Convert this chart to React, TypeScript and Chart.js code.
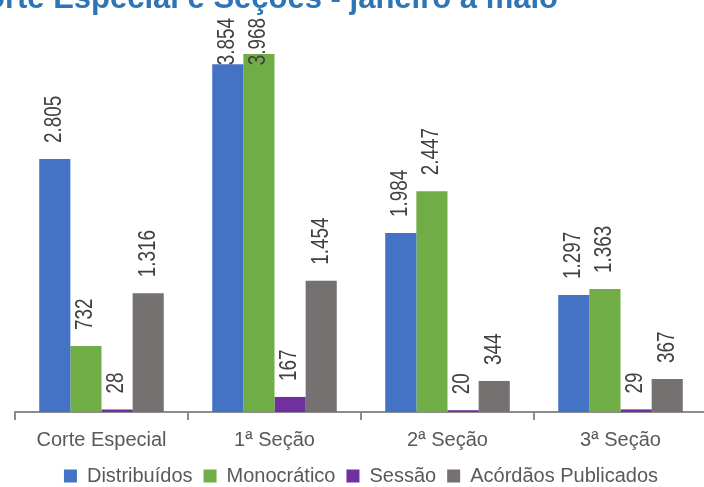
import React, { useEffect, useRef } from "react";
import { Chart, registerables } from "chart.js";

Chart.register(...registerables);

const TITLE = "Corte Especial e Seções - janeiro a maio";
const categories = ["Corte Especial", "1ª Seção", "2ª Seção", "3ª Seção"];
const distribuidos = [2805, 3854, 1984, 1297];
const monocratico = [732, 3968, 2447, 1363];
const sessao = [28, 167, 20, 29];
const acordaos = [1316, 1454, 344, 367];
const seriesNames = ["Distribuídos", "Monocrático", "Sessão", "Acórdãos Publicados"];
const colors = ["#4472C4", "#70AD47", "#7030A0", "#767171"];

const fmt = (v: number) => v.toString().replace(/\B(?=(\d{3})+(?!\d))/g, ".");

const FONT = "'Liberation Sans', Arial, sans-serif";

const labelPlugin = {
  id: "barLabels",
  afterDatasetsDraw(chart: any) {
    const ctx = chart.ctx;
    const squeeze = 0.82;
    ctx.save();
    ctx.font = `23px ${FONT}`;
    ctx.fillStyle = "#404040";
    chart.data.datasets.forEach((ds: any, di: number) => {
      const meta = chart.getDatasetMeta(di);
      meta.data.forEach((el: any, i: number) => {
        const text = fmt(ds.data[i]);
        const w = ctx.measureText(text).width * squeeze;
        let start = el.y - 16;
        if (start - w < 18) start = 18 + w;
        ctx.save();
        ctx.translate(el.x, start);
        ctx.rotate(-Math.PI / 2);
        ctx.scale(squeeze, 1);
        ctx.textAlign = "left";
        ctx.textBaseline = "middle";
        ctx.fillText(text, 0, 0);
        ctx.restore();
      });
    });
    ctx.restore();
  },
};

const titlePlugin = {
  id: "clippedTitle",
  afterDraw(chart: any) {
    const ctx = chart.ctx;
    ctx.save();
    ctx.font = `bold 31px ${FONT}`;
    ctx.fillStyle = "#2E75B6";
    ctx.textAlign = "right";
    ctx.textBaseline = "alphabetic";
    ctx.fillText(TITLE, 558, 8);
    ctx.restore();
  },
};

export default function App() {
  const ref = useRef<HTMLCanvasElement | null>(null);
  useEffect(() => {
    if (!ref.current) return;
    const allData = [distribuidos, monocratico, sessao, acordaos];
    const chart = new Chart(ref.current, {
      type: "bar",
      data: {
        labels: categories,
        datasets: seriesNames.map((n, i) => ({
          label: n,
          data: allData[i],
          backgroundColor: colors[i],
          borderWidth: 0,
          categoryPercentage: 0.72,
          barPercentage: 1.0,
        })),
      },
      options: {
        animation: false,
        responsive: true,
        maintainAspectRatio: false,
        layout: { padding: { left: 15, right: 39, top: 18, bottom: 0 } },
        plugins: {
          title: { display: false },
          tooltip: { enabled: false },
          legend: {
            position: "bottom",
            labels: {
              boxWidth: 13,
              boxHeight: 13,
              padding: 11,
              color: "#595959",
              font: { size: 20, family: FONT },
            },
          },
        },
        scales: {
          x: {
            offset: true,
            afterFit: (axis: any) => {
              axis.height = 43;
            },
            grid: {
              display: true,
              offset: true,
              drawOnChartArea: false,
              drawTicks: true,
              tickLength: 8,
              lineWidth: 2,
              color: "#8C8C8C",
            },
            border: { display: true, color: "#8C8C8C", width: 2 },
            ticks: { color: "#595959", font: { size: 20, family: FONT }, padding: 8 },
          },
          y: { display: false, min: 0, max: 4367 },
        },
      },
      plugins: [labelPlugin, titlePlugin],
    });
    return () => chart.destroy();
  }, []);
  return (
    <div style={{ position: "fixed", left: 0, top: 0, width: 704, height: 487, overflow: "hidden", background: "#fff" }}>
      <div style={{ position: "relative", width: 746, height: 496 }}>
        <canvas ref={ref} />
      </div>
    </div>
  );
}
